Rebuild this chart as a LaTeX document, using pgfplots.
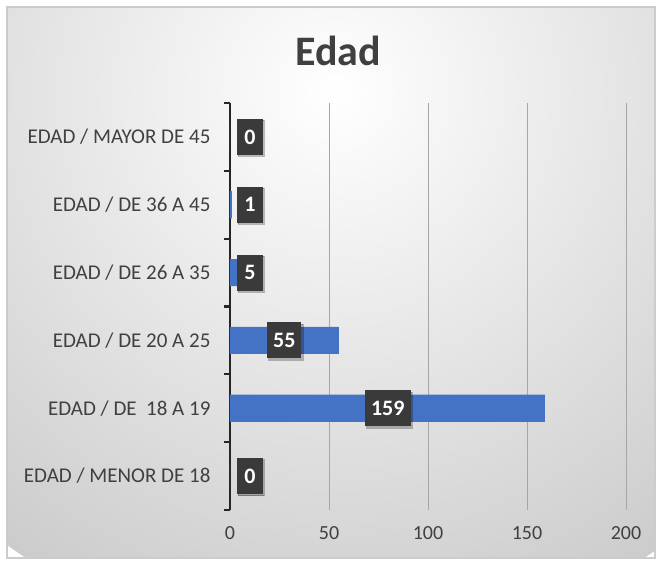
\documentclass[border=0pt]{standalone}
\usepackage{pgfplots}
\pgfplotsset{compat=1.18}
\usepackage{pgfplotstable}
\usepackage{fontspec}
\setmainfont{Carlito}
\usetikzlibrary{shadows}
\definecolor{barblue}{HTML}{4472C4}
\definecolor{txtgray}{HTML}{404040}
\definecolor{boxgray}{HTML}{3A3A3A}
\definecolor{gridgray}{HTML}{A6A6A6}

\pgfplotstableread{
y v
0 0
1 159
2 55
3 5
4 1
5 0
}\bars
\pgfplotstableread{
y lx v
0 10.1 0
1 79.7 159
2 27.4 55
3 10.1 5
4 10.1 1
5 10.1 0
}\labels

\begin{document}
\begin{tikzpicture}[x=1pt,y=1pt]
\useasboundingbox (0,0) rectangle (659,561);
\fill[white] (0,0) rectangle (659,561);
\begin{scope}
\clip (7,3) rectangle (655,554);
\shade[inner color=white, outer color=black!20] (335,470) circle (560);
\end{scope}
\draw[black!20, line width=1.2pt] (7,3) rectangle (655,554);
\node[font=\bfseries\fontsize{42}{46}\selectfont, text=txtgray] at (338,510) {Edad};
\begin{axis}[
  at={(230pt,51pt)}, anchor=south west,
  scale only axis, width=396pt, height=407pt,
  xmin=0, xmax=200, ymin=-0.5, ymax=5.5,
  xtick={0,50,100,150,200},
  xmajorgrids, grid style={gridgray, line width=0.9pt},
  axis x line*=bottom, axis y line*=left,
  x axis line style={draw=none},
  y axis line style={draw=black!85, line width=2.2pt},
  ytick={0,1,2,3,4,5},
  yticklabels={EDAD / MENOR DE 18, {EDAD / DE\ \ 18 A 19}, EDAD / DE 20 A 25, EDAD / DE 26 A 35, EDAD / DE 36 A 45, EDAD / MAYOR DE 45},
  minor ytick={-0.5,0.5,1.5,2.5,3.5,4.5,5.5},
  major tick length=0pt,
  minor tick length=6pt,
  tick align=outside,
  minor tick style={black!85, line width=2.2pt},
  major tick style={draw=none},
  yticklabel style={font=\fontsize{21}{24}\selectfont, text=txtgray, xshift=-16pt},
  xticklabel style={font=\fontsize{20}{22}\selectfont, text=txtgray, yshift=-13pt},
  /pgf/number format/assume math mode=true,
  clip=false,
]
\addplot[xbar, bar width=0.4, fill=barblue, draw=none] table[x=v, y=y] {\bars};
\addplot[only marks, mark=none, nodes near coords, point meta=explicit symbolic,
  every node near coord/.style={anchor=center, fill=boxgray, text=white,
    font=\bfseries\fontsize{22}{24}\selectfont, minimum height=36pt, minimum width=26pt,
    inner sep=6pt, drop shadow={shadow xshift=1.5pt, shadow yshift=-1.5pt, opacity=0.25, fill=black}}]
  table[x=lx, y=y, meta=v] {\labels};
\end{axis}
\end{tikzpicture}
\end{document}
